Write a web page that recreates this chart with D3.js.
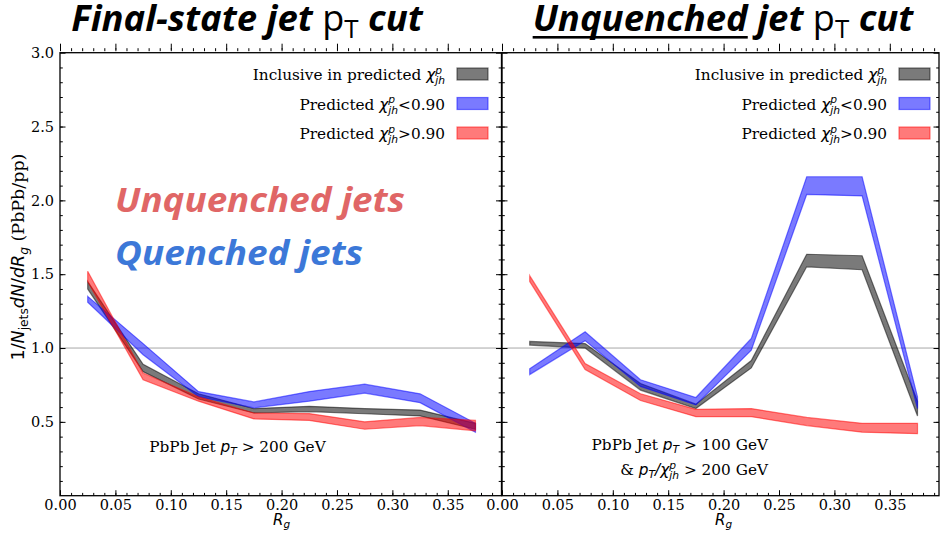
<!DOCTYPE html>
<html><head><meta charset="utf-8">
<script src="https://cdn.jsdelivr.net/npm/d3@7"></script>
<style>body{margin:0;background:#fff}svg{display:block}</style>
</head><body>
<svg id="c" width="941" height="541"></svg>
<script>
// ---------------- data ----------------
const binCenters = [0.025, 0.075, 0.125, 0.175, 0.225, 0.275, 0.325, 0.375];
const xMajorTicks = [0.00, 0.05, 0.10, 0.15, 0.20, 0.25, 0.30, 0.35];
const yMajorTicks = [0.5, 1.0, 1.5, 2.0, 2.5, 3.0];
// Left panel (final-state jet pT cut): lower / upper edges of bands
const leftInclLow   = [1.40, 0.84, 0.655, 0.56, 0.57, 0.555, 0.54, 0.45];
const leftInclHigh  = [1.45, 0.89, 0.69, 0.59, 0.605, 0.59, 0.58, 0.49];
const leftBelowLow  = [1.31, 0.955, 0.67, 0.595, 0.64, 0.695, 0.63, 0.43];
const leftBelowHigh = [1.35, 1.03, 0.705, 0.635, 0.705, 0.755, 0.69, 0.49];
const leftAboveLow  = [1.45, 0.785, 0.64, 0.52, 0.51, 0.45, 0.475, 0.44];
const leftAboveHigh = [1.52, 0.83, 0.67, 0.56, 0.556, 0.50, 0.53, 0.51];
// Right panel (unquenched jet pT cut)
const rightInclLow   = [1.02, 1.0, 0.715, 0.59, 0.865, 1.55, 1.53, 0.54];
const rightInclHigh  = [1.045, 1.03, 0.76, 0.62, 0.915, 1.635, 1.625, 0.64];
const rightBelowLow  = [0.82, 1.05, 0.74, 0.615, 0.985, 2.04, 2.03, 0.59];
const rightBelowHigh = [0.86, 1.11, 0.785, 0.665, 1.065, 2.16, 2.16, 0.67];
const rightAboveLow  = [1.45, 0.855, 0.645, 0.535, 0.535, 0.475, 0.43, 0.42];
const rightAboveHigh = [1.49, 0.895, 0.69, 0.585, 0.59, 0.53, 0.49, 0.49];
const seriesColors = ["#000000", "#0000ff", "#ff0000"];

// ---------------- helpers ----------------
const svg = d3.select("#c");
svg.append("rect").attr("width", 941).attr("height", 541).attr("fill", "#fff");
const SERIF = "'DejaVu Serif', serif";
const SANS = "'DejaVu Sans', sans-serif";
const OPEN = "'Open Sans', sans-serif";
const FS = 15.3;

// rich text: pieces laid out left to right, measured in the browser
function rich(parent, x, y, pieces, anchor) {
  const g = parent.append("g");
  let cur = 0, stack = null;
  pieces.forEach(p => {
    const t = g.append("text")
      .attr("x", stack ? stack.x : cur).attr("y", p.dy || 0)
      .attr("font-family", p.f || SERIF).attr("font-size", p.s || FS)
      .attr("font-style", p.it ? "italic" : "normal")
      .attr("font-weight", p.w || "normal")
      .attr("fill", p.fill || "#000")
      .attr("xml:space", "preserve")
      .style("white-space", "pre")
      .text(p.t);
    if (p.len) t.attr("textLength", p.len).attr("lengthAdjust", "spacingAndGlyphs");
    const w = p.len || t.node().getComputedTextLength();
    if (p.under) {
      g.append("rect").attr("x", cur).attr("y", (p.dy || 0) + p.under[0])
        .attr("width", w).attr("height", p.under[1]).attr("fill", p.fill || "#000");
    }
    if (p.stack) { stack = {x: cur, w: w}; }
    else if (stack) { cur = stack.x + Math.max(stack.w, w); stack = null; }
    else cur += w;
  });
  const shift = anchor === "end" ? -cur : anchor === "middle" ? -cur / 2 : 0;
  g.attr("transform", `translate(${x + shift},${y})`);
  return g;
}
function chi(s) {
  return [
    {t: "χ", f: SANS, it: true, s: s},
    {t: "p", f: SANS, it: true, s: s * 0.7, dy: -s * 0.42, stack: true},
    {t: "jh", f: SANS, it: true, s: s * 0.7, dy: s * 0.28}
  ];
}

// ---------------- layout ----------------
const yScale = d3.scaleLinear().domain([0, 3.0]).range([495.7, 52.7]);
const panels = [
  {x0: 60, x1: 501.5, dom: 0.3985, yLabels: true,
   data: [[leftInclLow, leftInclHigh], [leftBelowLow, leftBelowHigh], [leftAboveLow, leftAboveHigh]]},
  {x0: 502, x1: 939, dom: 0.3944, yLabels: false,
   data: [[rightInclLow, rightInclHigh], [rightBelowLow, rightBelowHigh], [rightAboveLow, rightAboveHigh]]}
];

panels.forEach((P, pi) => {
  const x = d3.scaleLinear().domain([0, P.dom]).range([P.x0, P.x1]);
  const g = svg.append("g");
  const clipId = "clip" + pi;
  svg.append("clipPath").attr("id", clipId).append("rect")
    .attr("x", P.x0).attr("y", 52.7).attr("width", P.x1 - P.x0).attr("height", 443);
  const plot = g.append("g").attr("clip-path", `url(#${clipId})`);

  // reference line at 1
  plot.append("line").attr("x1", P.x0).attr("x2", P.x1)
    .attr("y1", yScale(1)).attr("y2", yScale(1))
    .attr("stroke", "#a8a8a8").attr("stroke-width", 1);

  // bands
  P.data.forEach((d, si) => {
    const rows = binCenters.map((c, i) => ({c, lo: d[0][i], hi: d[1][i]}));
    const area = d3.area().x(r => x(r.c)).y0(r => yScale(r.lo)).y1(r => yScale(r.hi));
    plot.append("path").attr("d", area(rows))
      .attr("fill", seriesColors[si]).attr("fill-opacity", 0.52)
      .attr("stroke", seriesColors[si]).attr("stroke-opacity", 0.5).attr("stroke-width", 1.2);
  });

  // axes with inward ticks
  const xMinor = d3.range(0, 41).map(i => i / 100).filter(v => v <= P.dom + 1e-9);
  const yMinor = d3.range(1, 30).map(i => i / 10);
  const mk = (axis, scale, ticks, size, tx, ty, labels) => {
    const a = axis(scale).tickValues(ticks).tickSize(size).tickSizeOuter(0);
    if (!labels) a.tickFormat("");
    const ag = g.append("g").attr("transform", `translate(${tx},${ty})`).call(a);
    ag.select(".domain").remove();
    ag.selectAll("line").attr("stroke", "#000").attr("stroke-width", 1);
    return ag;
  };
  // bottom
  mk(d3.axisBottom, x, xMinor, -2.8, 0, 495.7, false);
  const bx = mk(d3.axisBottom, x, xMajorTicks, -5.5, 0, 495.7, true);
  bx.selectAll("text").attr("font-family", SERIF).attr("font-size", 14.5).attr("fill", "#000")
    .attr("y", 4.5).attr("dy", "0.71em")
    .text(d => d3.format(".2f")(d));
  // top (ticks cross the spine)
  mk(d3.axisTop, x, xMinor, 3, 0, 51.2, false);
  mk(d3.axisTop, x, xMajorTicks, 6, 0, 49.7, false);
  // left
  mk(d3.axisLeft, yScale, yMinor, -2.8, P.x0, 0, false);
  const ly = mk(d3.axisLeft, yScale, yMajorTicks, -5.5, P.x0, 0, P.yLabels);
  if (P.yLabels) {
    ly.selectAll("text").attr("font-family", SERIF).attr("font-size", 14.5).attr("fill", "#000")
      .attr("x", -6).text(d => d3.format(".1f")(d));
  }
  // right
  mk(d3.axisRight, yScale, yMinor, -2.8, P.x1, 0, false);
  mk(d3.axisRight, yScale, yMajorTicks, -5.5, P.x1, 0, false);

  // frame
  g.append("rect").attr("x", P.x0).attr("y", 52.7).attr("width", P.x1 - P.x0).attr("height", 443)
    .attr("fill", "none").attr("stroke", "#000").attr("stroke-width", 1.3);

  // x label
  rich(g, x(0.2), 524.5, [
    {t: "R", f: SANS, it: true, s: 15},
    {t: "g", f: SANS, it: true, s: 10.5, dy: 3}
  ], "middle");

  // legend
  const lx = P.x0 + 385;
  const names = [
    [{t: "Inclusive in predicted "}, ...chi(FS)],
    [{t: "Predicted "}, ...chi(FS), {t: "<0.90"}],
    [{t: "Predicted "}, ...chi(FS), {t: ">0.90"}]
  ];
  names.forEach((n, i) => {
    const yy = 80 + i * 29.5;
    rich(g, lx, yy, n, "end");
    g.append("rect").attr("x", lx + 12).attr("y", yy - 12).attr("width", 31).attr("height", 12)
      .attr("fill", seriesColors[i]).attr("fill-opacity", 0.52)
      .attr("stroke", seriesColors[i]).attr("stroke-opacity", 0.5).attr("stroke-width", 1.2);
  });
});

// y label
const YS = 17.5;
const yl = svg.append("g").attr("transform", "translate(24,257) rotate(-90)");
rich(yl, 0, 0, [
  {t: "1/", f: SANS, s: YS},
  {t: "N", f: SANS, it: true, s: YS},
  {t: "jets", f: SANS, s: YS * 0.7, dy: 3.5},
  {t: "dN", f: SANS, it: true, s: YS},
  {t: "/", f: SANS, s: YS},
  {t: "dR", f: SANS, it: true, s: YS},
  {t: "g", f: SANS, it: true, s: YS * 0.7, dy: 3.5},
  {t: " (PbPb/pp)", f: SERIF, s: YS}
], "middle");

// annotations
rich(svg, 237.5, 452, [
  {t: "PbPb Jet "},
  {t: "p", f: SANS, it: true},
  {t: "T", f: SANS, it: true, s: FS * 0.7, dy: 3},
  {t: " > 200 GeV"}
], "middle");
rich(svg, 768, 450, [
  {t: "PbPb Jet "},
  {t: "p", f: SANS, it: true},
  {t: "T", f: SANS, it: true, s: FS * 0.7, dy: 3},
  {t: " > 100 GeV"}
], "end");
rich(svg, 768, 475, [
  {t: "& "},
  {t: "p", f: SANS, it: true},
  {t: "T", f: SANS, it: true, s: FS * 0.7, dy: 3},
  {t: "/", f: SANS, it: true},
  ...chi(FS),
  {t: " > 200 GeV"}
], "end");

// big labels
rich(svg, 115, 212, [{t: "Unquenched jets", f: OPEN, it: true, w: "bold", s: 34, fill: "#e06666", len: 290}], "start");
rich(svg, 115, 265, [{t: "Quenched jets", f: OPEN, it: true, w: "bold", s: 34, fill: "#3c78d8", len: 248}], "start");

// titles
rich(svg, 247, 31, [
  {t: "Final-state jet ", f: OPEN, it: true, w: "bold", s: 36.5},
  {t: "p", f: OPEN, s: 36},
  {t: "T", f: OPEN, s: 26, dy: 7},
  {t: " cut", f: OPEN, it: true, w: "bold", s: 36.5}
], "middle");
rich(svg, 723, 31, [
  {t: "Unquenched", f: OPEN, it: true, w: "bold", s: 36.5, under: [5, 2.6]},
  {t: " jet ", f: OPEN, it: true, w: "bold", s: 36.5},
  {t: "p", f: OPEN, s: 36},
  {t: "T", f: OPEN, s: 26, dy: 7},
  {t: " cut", f: OPEN, it: true, w: "bold", s: 36.5}
], "middle");
</script>
</body></html>
